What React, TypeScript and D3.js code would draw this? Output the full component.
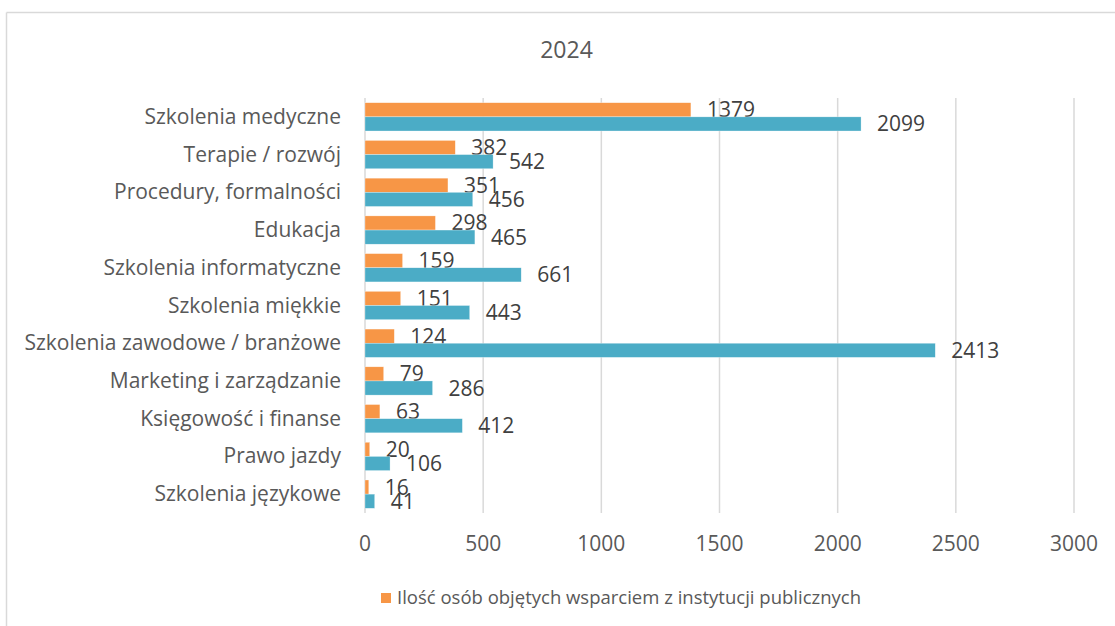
import React from "react";
import * as d3 from "d3";

const categories = [
  "Szkolenia medyczne",
  "Terapie / rozwój",
  "Procedury, formalności",
  "Edukacja",
  "Szkolenia informatyczne",
  "Szkolenia miękkie",
  "Szkolenia zawodowe / branżowe",
  "Marketing i zarządzanie",
  "Księgowość i finanse",
  "Prawo jazdy",
  "Szkolenia językowe",
];
const publicValues = [1379, 382, 351, 298, 159, 151, 124, 79, 63, 20, 16];
const otherValues = [2099, 542, 456, 465, 661, 443, 2413, 286, 412, 106, 41];
const xTicks = [0, 500, 1000, 1500, 2000, 2500, 3000];
const title = "2024";
const seriesNames = [
  "Ilość osób objętych wsparciem z instytucji publicznych",
  "Ilość osób objętych wsparciem z instytucji niepublicznych",
];
const colors = ["#F79646", "#4BACC6"];

const W = 1115;
const H = 626;
const FONT = "'Open Sans', sans-serif";

export default function App() {
  const x = d3.scaleLinear().domain([0, 3000]).range([365, 1074]);
  const y = d3.scaleBand<string>().domain(categories).range([98, 513]).paddingInner(0.25).paddingOuter(0.125);
  const inner = d3.scaleBand<number>().domain([0, 1]).range([0, y.bandwidth()]);
  const series = [publicValues, otherValues];

  return (
    <svg width={W} height={H} style={{ position: "absolute", left: 0, top: 0, background: "#fff" }} fontFamily={FONT}>
      <rect x={0} y={0} width={W} height={H} fill="#fff" />
      <line x1={6.5} x2={W} y1={12.5} y2={12.5} stroke="#D9D9D9" strokeWidth={1.5} />
      <line x1={6.5} x2={6.5} y1={12.5} y2={H} stroke="#D9D9D9" strokeWidth={1.5} />
      <text x={566.5} y={58} textAnchor="middle" fontSize={23} fill="#595959">{title}</text>
      {xTicks.map((t) => (
        <g key={t}>
          <line x1={x(t)} x2={x(t)} y1={98} y2={513} stroke="#D9D9D9" strokeWidth={1.5} />
          <text x={x(t)} y={551} textAnchor="middle" fontSize={21} fill="#595959">{t}</text>
        </g>
      ))}
      {categories.map((c, i) => (
        <g key={c}>
          <text x={341} y={(y(c) as number) + y.bandwidth() / 2 + 7} textAnchor="end" fontSize={21} fill="#595959">{c}</text>
          {series.map((vals, s) => {
            const by = (y(c) as number) + (inner(s) as number);
            const bh = inner.bandwidth();
            return (
              <g key={s}>
                <rect x={x(0)} y={by} width={x(vals[i]) - x(0)} height={bh} fill={colors[s]} stroke="#fff" strokeOpacity={0.6} strokeWidth={0.5} />
                <text x={x(vals[i]) + 16} y={by + bh / 2 + 7.5} fontSize={21} fill="#404040">{vals[i]}</text>
              </g>
            );
          })}
        </g>
      ))}
      <rect x={381} y={593} width={10} height={10} fill={colors[0]} />
      <text x={397} y={604} fontSize={18.5} fill="#595959">{seriesNames[0]}</text>
    </svg>
  );
}
